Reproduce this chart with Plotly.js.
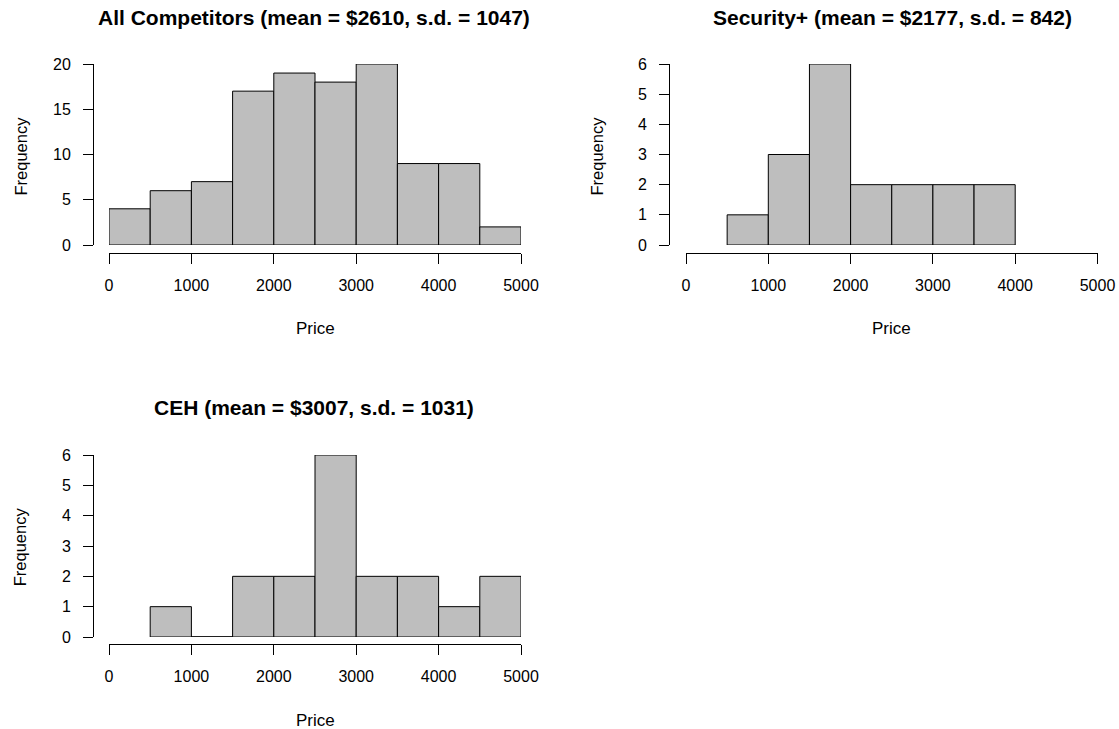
<!DOCTYPE html>
<html>
<head>
<meta charset="utf-8">
<script src="https://cdn.plot.ly/plotly-3.0.1.min.js"></script>
<style>
  html, body { margin: 0; padding: 0; background: #ffffff; }
  #chart { width: 1119px; height: 729px; }
</style>
</head>
<body>
<div id="chart"></div>
<script>
// Price histograms, bin width $500
const binWidth = 500;

const allBinStarts = [0, 500, 1000, 1500, 2000, 2500, 3000, 3500, 4000, 4500];
const allCounts    = [4, 6, 7, 17, 19, 18, 20, 9, 9, 2];

const secBinStarts = [500, 1000, 1500, 2000, 2500, 3000, 3500];
const secCounts    = [1, 3, 6, 2, 2, 2, 2];

const cehBinStarts = [500, 1000, 1500, 2000, 2500, 3000, 3500, 4000, 4500];
const cehCounts    = [1, 0, 2, 2, 6, 2, 2, 1, 2];

const panelTitles = [
  'All Competitors (mean = $2610, s.d. = 1047)',
  'Security+ (mean = $2177, s.d. = 842)',
  'CEH (mean = $3007, s.d. = 1031)'
];
const xTickVals = [0, 1000, 2000, 3000, 4000, 5000];
const xAxisLabel = 'Price';
const yAxisLabel = 'Frequency';

const W = 1119, H = 729;
const px = v => v / W;          // pixel -> paper x
const py = v => 1 - v / H;      // pixel -> paper y

const FONT = 'Liberation Sans, Arial, sans-serif';
const BAR_FILL = '#bebebe';
const INK = '#000000';

function barTrace(starts, counts, axisId) {
  return {
    type: 'bar',
    x: starts.map(s => s + binWidth / 2),
    y: counts,
    width: starts.map(() => binWidth),
    marker: { color: BAR_FILL, line: { color: INK, width: 1 } },
    cliponaxis: false,
    hoverinfo: 'x+y',
    xaxis: 'x' + axisId,
    yaxis: 'y' + axisId,
    showlegend: false
  };
}

// empty bins still show their flat outline along the baseline
function emptyBinTrace(starts, counts, axisId) {
  const xs = [], ys = [];
  starts.forEach((s, i) => {
    if (counts[i] === 0) { xs.push(s, s + binWidth, null); ys.push(0, 0, null); }
  });
  return {
    type: 'scatter', mode: 'lines', x: xs, y: ys,
    line: { color: INK, width: 1 }, cliponaxis: false,
    hoverinfo: 'skip', showlegend: false,
    xaxis: 'x' + axisId, yaxis: 'y' + axisId
  };
}

const axisIdSuffix = ['', '2', '3'];

const traces = [
  barTrace(allBinStarts, allCounts, ''),
  barTrace(secBinStarts, secCounts, '2'),
  barTrace(cehBinStarts, cehCounts, '3'),
  emptyBinTrace(cehBinStarts, cehCounts, '3')
];

// Panel geometry in pixels: data box (0..5000, 0..ymax), detached axis lines
const panels = [
  { x0: 109, x1: 521,    yTop: 64,  yBot: 245, xLineY: 253,   yLineX: 93,  ymax: 20, dtick: 5, titleY: 17,  titleX: 314, labelY: 328, freqX: 20 },
  { x0: 686, x1: 1097.5, yTop: 64,  yBot: 245, xLineY: 253,   yLineX: 669, ymax: 6,  dtick: 1, titleY: 17,  titleX: 892, labelY: 328, freqX: 596 },
  { x0: 109, x1: 521,    yTop: 455, yBot: 637, xLineY: 643.5, yLineX: 93,  ymax: 6,  dtick: 1, titleY: 407, titleX: 314, labelY: 720, freqX: 20 }
];

const axisCommon = {
  showgrid: false, zeroline: false, showline: true,
  linecolor: INK, linewidth: 1,
  ticks: 'outside', ticklen: 10, tickwidth: 1, tickcolor: INK,
  tickfont: { family: FONT, size: 16, color: INK },
  fixedrange: true
};

const layout = {
  width: W, height: H,
  margin: { l: 0, r: 0, t: 0, b: 0 },
  paper_bgcolor: '#ffffff', plot_bgcolor: '#ffffff',
  showlegend: false,
  bargap: 0,
  annotations: [],
  font: { family: FONT, color: INK }
};

panels.forEach((p, i) => {
  const s = axisIdSuffix[i];
  layout['xaxis' + s] = Object.assign({}, axisCommon, {
    domain: [px(p.x0), px(p.x1)],
    range: [0, 5000],
    anchor: 'free',
    position: py(p.xLineY),
    tickmode: 'array', tickvals: xTickVals,
    ticktext: xTickVals.map(String),
    ticklabelstandoff: 8
  });
  layout['yaxis' + s] = Object.assign({}, axisCommon, {
    domain: [py(p.yBot), py(p.yTop)],
    range: [0, p.ymax],
    anchor: 'free',
    position: px(p.yLineX),
    tickmode: 'linear', tick0: 0, dtick: p.dtick,
    ticklabelstandoff: 9
  });
  layout.annotations.push(
    { text: '<b>' + panelTitles[i] + '</b>', xref: 'paper', yref: 'paper',
      x: px(p.titleX), y: py(p.titleY), xanchor: 'center', yanchor: 'middle',
      showarrow: false, font: { family: FONT, size: 21, color: INK } },
    { text: xAxisLabel, xref: 'paper', yref: 'paper',
      x: px((p.x0 + p.x1) / 2), y: py(p.labelY), xanchor: 'center', yanchor: 'middle',
      showarrow: false, font: { family: FONT, size: 17, color: INK } },
    { text: yAxisLabel, xref: 'paper', yref: 'paper', textangle: -90,
      x: px(p.freqX), y: py((p.yTop + p.xLineY) / 2 - 2), xanchor: 'center', yanchor: 'middle',
      showarrow: false, font: { family: FONT, size: 16.5, color: INK } }
  );
});

Plotly.newPlot('chart', traces, layout, { displayModeBar: false, staticPlot: true });
</script>
</body>
</html>
